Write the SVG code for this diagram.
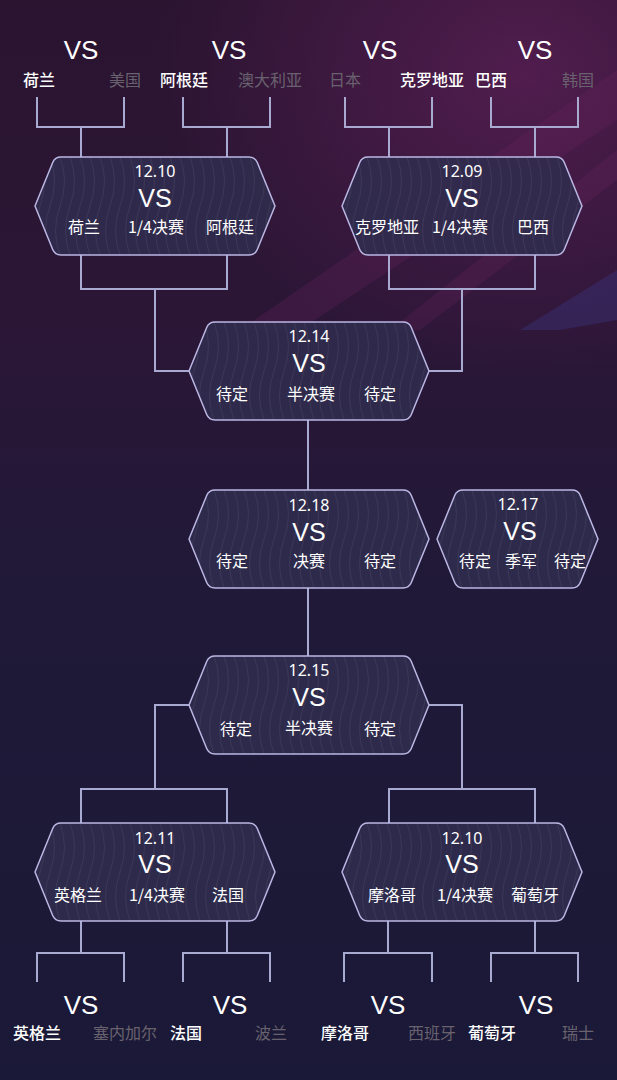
<svg xmlns="http://www.w3.org/2000/svg" width="617" height="1080" viewBox="0 0 617 1080">
<defs>
<linearGradient id="bg" x1="0" y1="0" x2="0" y2="1">
<stop offset="0" stop-color="#2a1430"/>
<stop offset="0.3" stop-color="#2b1636"/>
<stop offset="0.55" stop-color="#201938"/>
<stop offset="1" stop-color="#1a1937"/>
</linearGradient>
<radialGradient id="glow" cx="0.85" cy="0.15" r="0.6">
<stop offset="0" stop-color="#5a1f55" stop-opacity="0.8"/>
<stop offset="1" stop-color="#5a1f55" stop-opacity="0"/>
</radialGradient>
<pattern id="waves" patternUnits="userSpaceOnUse" width="10" height="98">
<path d="M5 0 Q 14 24 5 49 Q -4 74 5 98" fill="none" stroke="#ffffff" stroke-opacity="0.06" stroke-width="1"/>
</pattern>
<path id="hexL" d="M0 49 L17.7 5.5 Q20 0 26 0 L214 0 Q220 0 222.3 5.5 L240 49 L222.3 92.5 Q220 98 214 98 L26 98 Q20 98 17.7 92.5 Z"/>
<path id="hexS" d="M0 49 L17.7 5.5 Q20 0 26 0 L135 0 Q141 0 143.3 5.5 L161 49 L143.3 92.5 Q141 98 135 98 L26 98 Q20 98 17.7 92.5 Z"/>
</defs>
<style>
.conn path{fill:none;stroke:#a9aad2;stroke-width:2}
.hex{fill:#302c4e;fill-opacity:0.9;stroke:#bbb7e4;stroke-width:1.5}
.hexw{fill:url(#waves);stroke:none}
text{font-family:"Noto Sans","Noto Sans CJK SC",sans-serif;fill:#ffffff;text-anchor:middle}
.vs{font-family:"Liberation Sans","Noto Sans CJK SC",sans-serif;font-size:26px}
.vsn{font-family:"Liberation Sans","Noto Sans CJK SC",sans-serif;font-size:25px}
.date{font-size:16px}
.nm{font-size:16px;font-family:"Noto Sans CJK SC",sans-serif}
.tm{font-size:16px;font-family:"Noto Sans CJK SC",sans-serif;font-weight:500}
.lo{fill:#69626e;font-weight:normal}
</style>
<rect width="617" height="1080" fill="url(#bg)"/>
<rect width="617" height="500" fill="url(#glow)"/>
<polygon points="617,70 617,120 300,330 240,330" fill="#6a2560" fill-opacity="0.25"/>
<polygon points="617,150 617,180 420,330 390,330" fill="#7a2a6a" fill-opacity="0.2"/>
<polygon points="617,270 617,320 560,330 520,330" fill="#3d3a8a" fill-opacity="0.35"/>

<g class="conn" id="connectors">
<path d="M37 97 V127 H124 V97 M81 127 V157"/>
<path d="M183 97 V127 H270 V97 M227 127 V157"/>
<path d="M345 97 V127 H432 V97 M389 127 V157"/>
<path d="M491 97 V127 H578 V97 M535 127 V157"/>
<path d="M81 255 V289 H227 V255 M155 289 V371 H189"/>
<path d="M389 255 V289 H535 V255 M462 289 V371 H428"/>
<path d="M308 420 V490"/>
<path d="M308 588 V656"/>
<path d="M189 705 H155 V789 M81 823 V789 H227 V823"/>
<path d="M428 705 H462 V789 M389 823 V789 H535 V823"/>
<path d="M81 921 V953 M37 982 V953 H124 V982"/>
<path d="M227 921 V953 M183 982 V953 H270 V982"/>
<path d="M388 921 V953 M344 982 V953 H432 V982"/>
<path d="M535 921 V953 M491 982 V953 H578 V982"/>
</g>

<g id="r16-top">
<text class="vs" x="81" y="59">VS</text>
<text class="vs" x="229" y="59">VS</text>
<text class="vs" x="380" y="59">VS</text>
<text class="vs" x="535" y="59">VS</text>
<text class="tm" x="39" y="86">荷兰</text>
<text class="tm lo" x="125" y="86">美国</text>
<text class="tm" x="184" y="86">阿根廷</text>
<text class="tm lo" x="270" y="86">澳大利亚</text>
<text class="tm lo" x="345" y="86">日本</text>
<text class="tm" x="432" y="86">克罗地亚</text>
<text class="tm" x="491" y="86">巴西</text>
<text class="tm lo" x="578" y="86">韩国</text>
</g>

<g id="qf1" transform="translate(35 157)">
<use href="#hexL" class="hex"/><use href="#hexL" class="hexw"/>
<text class="date" x="120" y="20">12.10</text>
<text class="vsn" x="120" y="50">VS</text>
<text class="nm" x="49" y="76">荷兰</text>
<text class="nm" x="121" y="76">1/4决赛</text>
<text class="nm" x="195" y="76">阿根廷</text>
</g>

<g id="qf2" transform="translate(342 157)">
<use href="#hexL" class="hex"/><use href="#hexL" class="hexw"/>
<text class="date" x="120" y="20">12.09</text>
<text class="vsn" x="120" y="50">VS</text>
<text class="nm" x="45" y="76">克罗地亚</text>
<text class="nm" x="118" y="76">1/4决赛</text>
<text class="nm" x="191" y="76">巴西</text>
</g>

<g id="sf1" transform="translate(189 322)">
<use href="#hexL" class="hex"/><use href="#hexL" class="hexw"/>
<text class="date" x="120" y="20">12.14</text>
<text class="vsn" x="120" y="50">VS</text>
<text class="nm" x="43" y="78">待定</text>
<text class="nm" x="122" y="78">半决赛</text>
<text class="nm" x="191" y="78">待定</text>
</g>

<g id="final" transform="translate(189 490)">
<use href="#hexL" class="hex"/><use href="#hexL" class="hexw"/>
<text class="date" x="120" y="21">12.18</text>
<text class="vsn" x="120" y="51">VS</text>
<text class="nm" x="43" y="77">待定</text>
<text class="nm" x="120" y="77">决赛</text>
<text class="nm" x="191" y="77">待定</text>
</g>

<g id="third" transform="translate(437 490)">
<use href="#hexS" class="hex"/><use href="#hexS" class="hexw"/>
<text class="date" x="81" y="20">12.17</text>
<text class="vsn" x="83" y="50">VS</text>
<text class="nm" x="38" y="77">待定</text>
<text class="nm" x="84" y="77">季军</text>
<text class="nm" x="133" y="77">待定</text>
</g>

<g id="sf2" transform="translate(189 656)">
<use href="#hexL" class="hex"/><use href="#hexL" class="hexw"/>
<text class="date" x="120" y="20">12.15</text>
<text class="vsn" x="120" y="50">VS</text>
<text class="nm" x="47" y="79">待定</text>
<text class="nm" x="120" y="78">半决赛</text>
<text class="nm" x="191" y="79">待定</text>
</g>

<g id="qf3" transform="translate(35 823)">
<use href="#hexL" class="hex"/><use href="#hexL" class="hexw"/>
<text class="date" x="120" y="21">12.11</text>
<text class="vsn" x="120" y="50">VS</text>
<text class="nm" x="43" y="78">英格兰</text>
<text class="nm" x="122" y="78">1/4决赛</text>
<text class="nm" x="193" y="78">法国</text>
</g>

<g id="qf4" transform="translate(342 823)">
<use href="#hexL" class="hex"/><use href="#hexL" class="hexw"/>
<text class="date" x="120" y="21">12.10</text>
<text class="vsn" x="120" y="50">VS</text>
<text class="nm" x="50" y="78">摩洛哥</text>
<text class="nm" x="123" y="78">1/4决赛</text>
<text class="nm" x="193" y="78">葡萄牙</text>
</g>

<g id="r16-bottom">
<text class="vs" x="81" y="1014">VS</text>
<text class="vs" x="230" y="1014">VS</text>
<text class="vs" x="388" y="1014">VS</text>
<text class="vs" x="536" y="1014">VS</text>
<text class="tm" x="37" y="1039">英格兰</text>
<text class="tm lo" x="125" y="1039">塞内加尔</text>
<text class="tm" x="186" y="1039">法国</text>
<text class="tm lo" x="271" y="1039">波兰</text>
<text class="tm" x="345" y="1039">摩洛哥</text>
<text class="tm lo" x="432" y="1039">西班牙</text>
<text class="tm" x="492" y="1039">葡萄牙</text>
<text class="tm lo" x="578" y="1039">瑞士</text>
</g>
</svg>
